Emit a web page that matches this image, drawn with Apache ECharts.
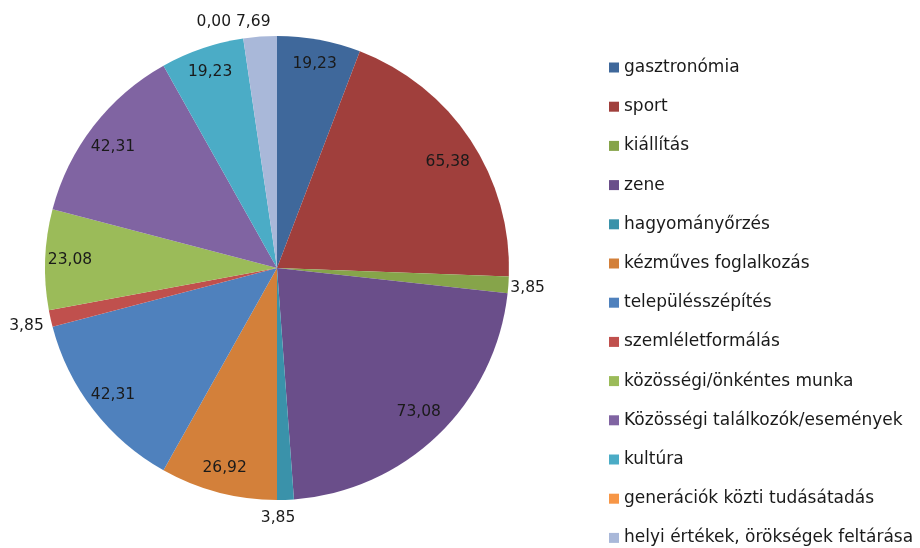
<!DOCTYPE html>
<html><head><meta charset="utf-8">
<script src="https://cdn.jsdelivr.net/npm/echarts@6/dist/echarts.min.js"></script>
<style>html,body{margin:0;padding:0;background:#fff}#c{width:920px;height:548px}</style>
</head><body><div id="c"></div>
<script>
const categories = ["gasztronómia","sport","kiállítás","zene","hagyományőrzés","kézműves foglalkozás","településszépítés","szemléletformálás","közösségi/önkéntes munka","Közösségi találkozók/események","kultúra","generációk közti tudásátadás","helyi értékek, örökségek feltárása"];
const values = [19.23,65.38,3.85,73.08,3.85,26.92,42.31,3.85,23.08,42.31,19.23,0.00,7.69];
const colors = ["#3F689B","#A03F3C","#86A44A","#6A4E8A","#3A92AA","#D3803A","#4F81BD","#C0504D","#9BBB59","#8064A2","#4BACC6","#F79646","#A9B8D9"];
const outsideSet = [2,4,7,11,12];

const FONT = "DejaVu Sans";
const fmt = p => p.value.toFixed(2).replace('.', ',');
const mainData = categories.map((n,i)=>({name:n,value:values[i],itemStyle:{color:colors[i]},
  label:{show: outsideSet.includes(i)}}));
const ringData = categories.map((n,i)=>({name:n,value:values[i],
  label:{show: !outsideSet.includes(i)}}));

// small nudges of the library-placed outside labels (label styling only)
const outsideNudge = {2:[-11,2],4:[-30,10],7:[6,6],11:[-6,-9],12:[16,-7]};
const insideNudge = {1:[-2,8],3:[-2,-5],9:[0,6]};

const chart = echarts.init(document.getElementById('c'), null, {renderer:'canvas'});
chart.setOption({
  animation:false,
  backgroundColor:'#fff',
  legend:{orient:'vertical',left:609,top:58,height:500,padding:0,itemWidth:10,itemHeight:10,itemGap:20.2,
    icon:'rect',textStyle:{fontFamily:FONT,fontSize:17,color:'#1a1a1a',lineHeight:19},
    data:categories},
  series:[
    {type:'pie',center:[277,268],radius:232,startAngle:90,clockwise:true,
     avoidLabelOverlap:false,minShowLabelAngle:-1,
     label:{position:'outside',formatter:fmt,fontFamily:FONT,fontSize:15.5,color:'#1a1a1a'},
     labelLine:{show:false,length:8,length2:0},
     labelLayout:p=>{const n=outsideNudge[p.dataIndex]||[0,0];return {hideOverlap:false,dx:n[0],dy:n[1]};},
     emphasis:{disabled:true},
     data:mainData},
    {type:'pie',center:[277,268],radius:[0.76*232,232],startAngle:90,clockwise:true,
     silent:true,avoidLabelOverlap:false,itemStyle:{color:'rgba(0,0,0,0)'},
     label:{position:'inside',formatter:fmt,fontFamily:FONT,fontSize:15.5,color:'#1a1a1a'},
     labelLine:{show:false},emphasis:{disabled:true},
     labelLayout:p=>{const n=insideNudge[p.dataIndex]||[0,0];return {dx:n[0],dy:n[1]};},
     data:ringData}
  ]
});
</script></body></html>
